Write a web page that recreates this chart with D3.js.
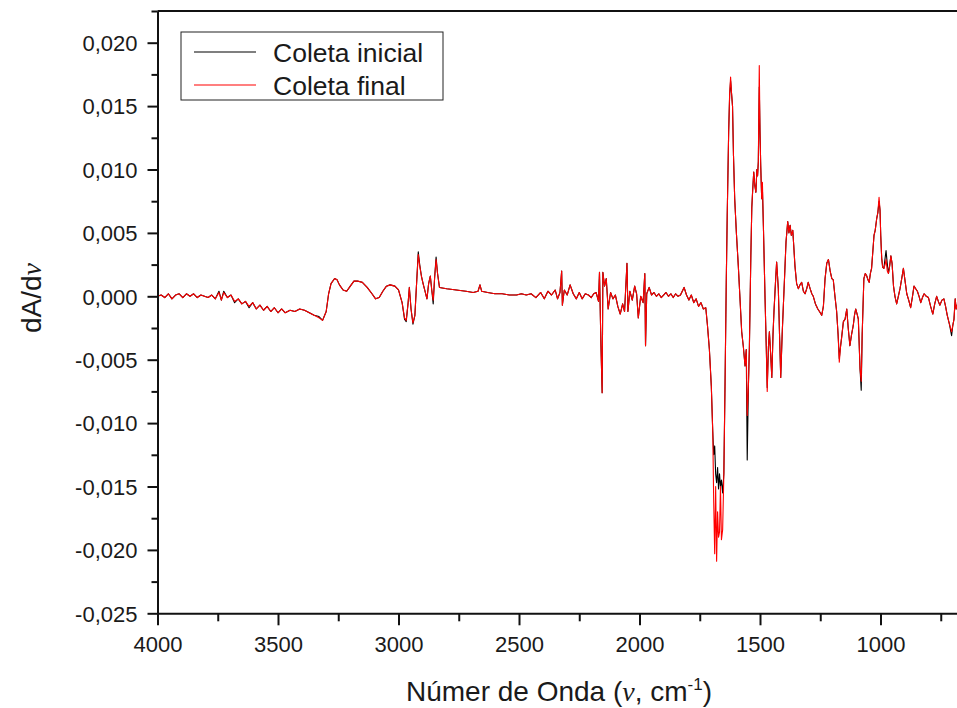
<!DOCTYPE html>
<html>
<head>
<meta charset="utf-8">
<script src="https://cdn.jsdelivr.net/npm/d3@7"></script>
<style>
  body { margin: 0; background: #fff; }
  svg { display: block; font-family: "Liberation Sans", Arial, sans-serif; }
</style>
</head>
<body>
<svg id="chart" width="957" height="708"></svg>
<script>
// wavenumber (cm-1) for every sampled point
var numeroDeOnda = [
  4000,3985,3970,3955,3940,3925,3910,3895,3880,3865,
  3850,3835,3820,3805,3790,3775,3760,3745,3735,3725,
  3710,3695,3680,3665,3650,3635,3620,3605,3590,3575,
  3560,3545,3530,3515,3500,3485,3470,3450,3430,3410,
  3390,3370,3350,3330,3315,3300,3290,3280,3265,3255,
  3245,3230,3215,3200,3185,3170,3150,3130,3110,3095,
  3080,3065,3050,3035,3015,3000,2985,2975,2968,2960,
  2955,2948,2940,2932,2925,2918,2912,2905,2898,2890,
  2882,2875,2868,2862,2856,2850,2844,2838,2830,2800,
  2760,2720,2690,2670,2662,2655,2630,2600,2570,2540,
  2510,2490,2470,2450,2430,2410,2395,2380,2365,2350,
  2340,2330,2323,2320,2312,2300,2288,2275,2262,2250,
  2238,2225,2212,2200,2190,2180,2170,2166,2160,2155,
  2152,2145,2138,2130,2120,2110,2100,2090,2080,2070,
  2062,2052,2048,2040,2030,2020,2012,2005,1995,1985,
  1978,1975,1970,1960,1950,1940,1930,1920,1910,1900,
  1890,1880,1870,1860,1850,1840,1830,1815,1805,1795,
  1785,1775,1765,1755,1745,1735,1725,1718,1710,1702,
  1696,1692,1688,1684,1680,1676,1672,1668,1664,1660,
  1655,1650,1645,1640,1636,1630,1626,1622,1618,1614,
  1610,1605,1598,1590,1583,1576,1569,1562,1557,1553,
  1548,1544,1538,1534,1530,1526,1522,1517,1513,1510,
  1507,1503,1500,1497,1493,1490,1486,1479,1474,1470,
  1465,1461,1456,1451,1446,1442,1436,1431,1424,1419,
  1414,1408,1403,1397,1392,1388,1385,1380,1375,1370,
  1364,1360,1355,1348,1341,1334,1327,1320,1313,1306,
  1300,1292,1285,1279,1270,1260,1250,1244,1237,1230,
  1223,1216,1209,1202,1196,1189,1182,1176,1171,1166,
  1161,1154,1147,1140,1134,1127,1120,1113,1108,1103,
  1097,1092,1085,1080,1076,1069,1063,1057,1052,1047,
  1042,1037,1032,1027,1022,1016,1011,1006,1002,999,
  995,991,986,981,977,972,967,962,957,952,
  946,940,933,926,919,912,905,898,891,883,
  875,868,861,854,847,840,833,826,819,810,
  801,792,783,775,767,760,754,745,737,730,
  723,714,705,700,695,690,686,680
];

var coletaInicial = [
  0,0.0001,-0.0001,0.0002,-0.0002,0.0001,0.0002,-0.0001,0.0002,0,
  0.0002,-0.0001,0.0001,0,-0.0001,0.0001,-0.0002,0.0004,-0.0003,0.0004,
  -0.0001,0.0001,-0.0005,-0.0002,-0.0006,-0.0004,-0.0009,-0.0005,-0.0010,-0.0007,
  -0.0011,-0.0008,-0.0012,-0.0009,-0.0013,-0.0010,-0.0013,-0.0011,-0.0012,-0.0010,
  -0.0011,-0.0013,-0.0015,-0.0016,-0.0019,-0.0012,0.0002,0.0010,0.0014,0.0013,
  0.0009,0.0005,0.0004,0.0008,0.0012,0.0012,0.0011,0.0007,0.0002,-0.0002,
  -0.0001,0.0004,0.0008,0.0009,0.0008,0.0005,-0.0005,-0.0018,-0.0020,-0.0005,
  0.0007,-0.0010,-0.0022,-0.0015,0.0010,0.0035,0.0025,0.0016,0.0010,0.0004,
  -0.0002,0.0010,0.0016,0.0005,-0.0006,0.0015,0.0031,0.0018,0.0007,0.0006,
  0.0005,0.0004,0.0003,0.0004,0.0009,0.0004,0.0003,0.0002,0.0002,0.0001,
  0.0001,0.0002,0.0001,0.0002,-0.0001,0.0003,-0.0002,0.0004,0.0001,0.0005,
  -0.0002,0.0003,0.0020,-0.0007,0.0005,0.0001,0.0009,0.0002,-0.0002,0.0003,
  -0.0002,0.0002,0.0001,-0.0001,0.0002,0.0003,-0.0004,0.0019,-0.0039,-0.0076,
  0.0019,0.0008,0.0014,-0.0010,0.0003,-0.0002,0.0001,-0.0008,-0.0014,-0.0006,
  -0.0012,0.0026,-0.0012,0.0004,-0.0003,0.0008,0.0002,-0.0017,0.0000,-0.0005,
  0.0018,-0.0039,0.0002,0.0007,0.0001,0.0003,0.0000,0.0002,-0.0001,0.0001,
  0.0003,0.0000,0.0002,-0.0001,0.0002,0.0000,0.0001,0.0007,0.0001,-0.0003,
  0.0001,-0.0005,-0.0002,-0.0008,-0.0005,-0.0010,-0.0009,-0.0023,-0.0042,-0.0071,
  -0.0107,-0.0125,-0.0118,-0.0140,-0.0147,-0.0135,-0.0152,-0.0140,-0.0150,-0.0145,
  -0.0155,-0.0140,-0.0068,0.0011,0.0064,0.0130,0.0158,0.0170,0.0160,0.0150,
  0.0111,0.0077,0.0050,0.0024,-0.0002,-0.0028,-0.0040,-0.0055,-0.0042,-0.0129,
  -0.0070,-0.0040,0.0032,0.0070,0.0085,0.0098,0.0088,0.0082,0.0100,0.0095,
  0.0106,0.0165,0.0130,0.0103,0.0077,0.0085,0.0056,-0.0002,-0.0040,-0.0072,
  -0.0040,-0.0028,-0.0045,-0.0064,-0.0030,-0.0012,0.0010,0.0027,0.0006,-0.0030,
  -0.0064,-0.0030,-0.0007,0.0020,0.0043,0.0052,0.0059,0.0050,0.0056,0.0048,
  0.0052,0.0040,0.0024,0.0010,0.0006,0.0009,0.0011,0.0004,0.0002,0.0006,
  0.0011,0.0006,0.0002,0.0000,-0.0006,-0.0010,-0.0013,-0.0015,-0.0008,0.0014,
  0.0026,0.0029,0.0020,0.0014,0.0013,0.0000,-0.0012,-0.0030,-0.0049,-0.0040,
  -0.0032,-0.0020,-0.0018,-0.0010,-0.0025,-0.0039,-0.0030,-0.0023,-0.0015,-0.0010,
  -0.0014,-0.0018,-0.0057,-0.0074,-0.0030,0.0014,0.0018,0.0016,0.0013,0.0011,
  0.0018,0.0022,0.0035,0.0048,0.0052,0.0061,0.0066,0.0075,0.0068,0.0048,
  0.0030,0.0023,0.0022,0.0030,0.0036,0.0026,0.0018,0.0024,0.0032,0.0026,
  0.0008,0.0000,-0.0006,0.0000,0.0006,0.0014,0.0022,0.0012,0.0002,-0.0003,
  -0.0009,-0.0001,0.0008,0.0006,0.0004,0.0000,-0.0005,-0.0001,0.0002,0.0000,
  -0.0001,-0.0008,-0.0014,-0.0006,0.0000,-0.0004,-0.0007,-0.0003,-0.0002,-0.0008,
  -0.0015,-0.0022,-0.0031,-0.0023,-0.0018,-0.0002,-0.0010,-0.0006
];

var coletaFinal = [
  0,0.0001,-0.0001,0.0002,-0.0002,0.0001,0.0002,-0.0001,0.0002,0,
  0.0002,-0.0001,0.0001,0,-0.0001,0.0001,-0.0002,0.0003,-0.0003,0.0003,
  -0.0001,0.0001,-0.0004,-0.0002,-0.0006,-0.0004,-0.0008,-0.0005,-0.0010,-0.0007,
  -0.0011,-0.0008,-0.0012,-0.0009,-0.0013,-0.0010,-0.0013,-0.0011,-0.0012,-0.0010,
  -0.0011,-0.0013,-0.0015,-0.0017,-0.0019,-0.0012,0.0002,0.0010,0.0014,0.0013,
  0.0009,0.0005,0.0004,0.0008,0.0012,0.0012,0.0011,0.0007,0.0002,-0.0002,
  -0.0001,0.0004,0.0008,0.0009,0.0008,0.0005,-0.0005,-0.0017,-0.0019,-0.0005,
  0.0007,-0.0010,-0.0021,-0.0015,0.0010,0.0033,0.0024,0.0016,0.0010,0.0004,
  -0.0002,0.0010,0.0016,0.0005,-0.0003,0.0015,0.0029,0.0018,0.0007,0.0006,
  0.0005,0.0004,0.0003,0.0004,0.0009,0.0004,0.0003,0.0002,0.0002,0.0001,
  0.0001,0.0002,0.0001,0.0002,-0.0001,0.0003,-0.0002,0.0004,0.0001,0.0005,
  -0.0002,0.0003,0.0020,-0.0007,0.0005,0.0001,0.0009,0.0002,-0.0002,0.0003,
  -0.0002,0.0002,0.0001,-0.0001,0.0002,0.0003,-0.0004,0.0019,-0.0039,-0.0076,
  0.0019,0.0008,0.0014,-0.0010,0.0003,-0.0002,0.0001,-0.0008,-0.0014,-0.0006,
  -0.0012,0.0026,-0.0012,0.0004,-0.0003,0.0008,0.0002,-0.0017,0.0000,-0.0005,
  0.0018,-0.0039,0.0002,0.0007,0.0001,0.0003,0.0000,0.0002,-0.0001,0.0001,
  0.0003,0.0000,0.0002,-0.0001,0.0002,0.0000,0.0001,0.0007,0.0001,-0.0003,
  0.0001,-0.0005,-0.0002,-0.0008,-0.0005,-0.0010,-0.0009,-0.0023,-0.0042,-0.0071,
  -0.0107,-0.0163,-0.0203,-0.0150,-0.0209,-0.0170,-0.0190,-0.0186,-0.0150,-0.0192,
  -0.0184,-0.0140,-0.0068,0.0011,0.0064,0.0130,0.0160,0.0173,0.0160,0.0150,
  0.0111,0.0077,0.0050,0.0024,-0.0002,-0.0028,-0.0040,-0.0055,-0.0042,-0.0094,
  -0.0070,-0.0040,0.0032,0.0070,0.0085,0.0098,0.0088,0.0082,0.0100,0.0095,
  0.0106,0.0182,0.0130,0.0103,0.0077,0.0090,0.0056,-0.0002,-0.0040,-0.0075,
  -0.0040,-0.0028,-0.0045,-0.0064,-0.0030,-0.0012,0.0010,0.0027,0.0006,-0.0030,
  -0.0064,-0.0030,-0.0007,0.0020,0.0043,0.0052,0.0059,0.0050,0.0056,0.0048,
  0.0052,0.0040,0.0024,0.0010,0.0006,0.0009,0.0011,0.0004,0.0002,0.0006,
  0.0011,0.0006,0.0002,0.0000,-0.0006,-0.0010,-0.0013,-0.0015,-0.0008,0.0014,
  0.0026,0.0029,0.0020,0.0014,0.0013,0.0000,-0.0012,-0.0030,-0.0052,-0.0040,
  -0.0032,-0.0020,-0.0018,-0.0010,-0.0025,-0.0039,-0.0030,-0.0023,-0.0015,-0.0010,
  -0.0014,-0.0018,-0.0057,-0.0067,-0.0030,0.0014,0.0018,0.0016,0.0013,0.0011,
  0.0018,0.0022,0.0035,0.0048,0.0052,0.0061,0.0066,0.0078,0.0068,0.0048,
  0.0030,0.0023,0.0022,0.0025,0.0029,0.0020,0.0018,0.0024,0.0032,0.0026,
  0.0008,0.0000,-0.0006,0.0000,0.0006,0.0014,0.0022,0.0012,0.0002,-0.0003,
  -0.0009,-0.0001,0.0008,0.0006,0.0004,0.0000,-0.0005,-0.0001,0.0002,0.0000,
  -0.0001,-0.0008,-0.0014,-0.0006,0.0000,-0.0004,-0.0007,-0.0003,-0.0002,-0.0008,
  -0.0015,-0.0022,-0.0028,-0.0023,-0.0018,-0.0002,-0.0010,-0.0006
];

var xTicks = [4000, 3500, 3000, 2500, 2000, 1500, 1000];
var xMinor = [3750, 3250, 2750, 2250, 1750, 1250, 750];
var yTicks = [-0.025, -0.020, -0.015, -0.010, -0.005, 0, 0.005, 0.010, 0.015, 0.020];
var yMinor = [-0.0225, -0.0175, -0.0125, -0.0075, -0.0025, 0.0025, 0.0075, 0.0125, 0.0175, 0.0225];
var seriesNames = ["Coleta inicial", "Coleta final"];
var seriesColors = ["#000000", "#ff0000"];

function chart() {
  var svg = d3.select("#chart");
  var left = 157.5, top = 11, bottom = 613.3;
  var right = left + 3350 * 0.241;

  var x = d3.scaleLinear().domain([4000, 650]).range([left, right]);
  var y = d3.scaleLinear().domain([-0.025, 0.0225]).range([bottom, top]);

  var br = d3.formatLocale({decimal: ",", thousands: ".", grouping: [3], currency: ["", ""], minus: "-"});
  var fmt = br.format(".3f");

  svg.append("clipPath").attr("id", "plot")
    .append("rect").attr("x", left).attr("y", top)
    .attr("width", right - left).attr("height", bottom - top);

  var line = d3.line()
    .x(function(d) { return x(d[0]); })
    .y(function(d) { return y(d[1]); });

  var series = [coletaInicial, coletaFinal];
  series.forEach(function(vals, i) {
    var pts = numeroDeOnda.map(function(w, k) { return [w, vals[k]]; });
    svg.append("path")
      .datum(pts)
      .attr("clip-path", "url(#plot)")
      .attr("fill", "none")
      .attr("stroke", seriesColors[i])
      .attr("stroke-width", 1.1)
      .attr("stroke-linejoin", "round")
      .attr("d", line);
  });

  // frame top
  svg.append("line").attr("x1", left).attr("x2", 957).attr("y1", top).attr("y2", top)
    .attr("stroke", "#111").attr("stroke-width", 2);

  // left axis
  var yAxis = svg.append("g").attr("transform", "translate(" + left + ",0)")
    .call(d3.axisLeft(y).tickValues(yTicks).tickFormat(fmt).tickSize(10).tickSizeOuter(0));
  svg.append("g").attr("transform", "translate(" + left + ",0)")
    .call(d3.axisLeft(y).tickValues(yMinor).tickFormat("").tickSize(6).tickSizeOuter(0))
    .select(".domain").remove();

  // bottom axis
  var xAxis = svg.append("g").attr("transform", "translate(0," + bottom + ")")
    .call(d3.axisBottom(x).tickValues(xTicks).tickFormat(d3.format("d")).tickSize(12).tickSizeOuter(0));
  svg.append("g").attr("transform", "translate(0," + bottom + ")")
    .call(d3.axisBottom(x).tickValues(xMinor).tickFormat("").tickSize(8).tickSizeOuter(0))
    .select(".domain").remove();

  svg.selectAll(".domain, .tick line").attr("stroke", "#111").attr("stroke-width", 2);
  yAxis.selectAll("text").attr("x", -20).attr("dy", "0.35em")
    .style("font-size", "22px").attr("fill", "#1a1a1a").style("font-family", "'Liberation Sans', Arial");
  xAxis.selectAll("text").attr("y", 23).attr("dy", "0.71em")
    .style("font-size", "22px").attr("fill", "#1a1a1a").style("font-family", "'Liberation Sans', Arial");

  // axis titles
  var xt = svg.append("text").attr("x", 559).attr("y", 701)
    .attr("text-anchor", "middle").style("font-size", "28px").attr("fill", "#1a1a1a");
  xt.append("tspan").text("Númer de Onda (");
  xt.append("tspan").style("font-family", "'Liberation Serif', serif").style("font-style", "italic").text("ν");
  xt.append("tspan").text(", cm");
  xt.append("tspan").attr("dy", -11).style("font-size", "17px").text("-1");
  xt.append("tspan").attr("dy", 11).text(")");

  var yt = svg.append("text").attr("transform", "translate(41,298) rotate(-90)")
    .attr("text-anchor", "middle").style("font-size", "28px").attr("fill", "#1a1a1a");
  yt.append("tspan").text("dA/d");
  yt.append("tspan").style("font-family", "'Liberation Serif', serif").style("font-style", "italic").text("ν");

  // legend
  var lg = svg.append("g");
  lg.append("rect").attr("x", 181).attr("y", 32).attr("width", 262).attr("height", 68)
    .attr("fill", "#fff").attr("stroke", "#222").attr("stroke-width", 1);
  seriesNames.forEach(function(name, i) {
    var cy = 52 + i * 33;
    lg.append("line").attr("x1", 194).attr("x2", 256).attr("y1", cy).attr("y2", cy)
      .attr("stroke", seriesColors[i]).attr("stroke-width", 1.2);
    lg.append("text").attr("x", 273).attr("y", cy + 9.5)
      .style("font-size", "26.5px").attr("fill", "#1a1a1a").text(name);
  });
}

chart();
</script>
</body>
</html>
